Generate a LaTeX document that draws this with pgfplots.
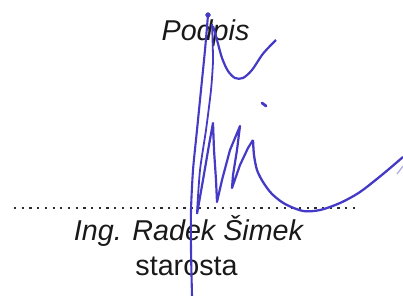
\documentclass[border=0pt]{standalone}
\usepackage{pgfplots}
\pgfplotsset{compat=1.18}
\usepackage{fontspec}
\setmainfont{Liberation Sans}
\definecolor{ink}{RGB}{68,58,198}
\definecolor{txt}{RGB}{25,25,25}
\definecolor{dotc}{RGB}{45,45,45}
\begin{document}
\begin{tikzpicture}
\begin{axis}[
  width=403bp, height=296bp, scale only axis,
  xmin=0, xmax=403, ymin=0, ymax=296, y dir=reverse,
  hide axis, clip=true,
]
% dotted signature line
\addplot[dotc, line width=2.2bp, dash pattern=on 2.2bp off 5.5bp, line cap=butt] coordinates {(14,208) (357,208)};
% texts
\node[txt, anchor=base, inner sep=0pt, font=\fontsize{28.8}{34}\selectfont\itshape] at (axis cs:205.5,40) {Podpis};
\node[txt, anchor=base, inner sep=0pt, font=\fontsize{28.8}{34}\selectfont\itshape] at (axis cs:188.5,240) {Ing. Radek Šimek};
\node[txt, anchor=base, inner sep=0pt, font=\fontsize{28.8}{34}\selectfont] at (axis cs:186.5,275) {starosta};
% signature strokes
\addplot[ink, line width=2.1bp, smooth, tension=0.4] coordinates {
(208,15) (205,50) (201,90) (197,130) (193,170) (191,210) (191,250) (192,296)};
\addplot[ink, line width=1.8bp, smooth, tension=0.4] coordinates {
(212,24) (213,60) (211,90) (206,130) (200,170) (197,212)};
\addplot[ink, line width=2.2bp, smooth, tension=0.5] coordinates {
(213,26) (217,40) (222,58) (228,71) (235,78) (243,78) (252,70) (262,55) (270,46) (276,40)};
\addplot[ink, line width=2.2bp, sharp plot, line join=round] coordinates {
(197,214) (203,180) (209,145) (213,123) (214,150) (216,180) (217,202) (222,180) (230,150) (240,126) (237,150) (233,175) (232,188) (240,165) (248,148) (253,140)};
\addplot[ink, line width=2.3bp, smooth, tension=0.5] coordinates {
(253,140) (254,155) (257,170) (263,182) (272,194) (285,204) (303,211) (320,210) (340,203) (360,192) (383,174) (403,157)};
\addplot[ink!45, line width=1.2bp] coordinates {(397,174) (403,166)};
\addplot[ink, line width=2.8bp, line cap=round] coordinates {(262,103) (266,106)};
\addplot[ink, only marks, mark=*, mark size=2.4bp] coordinates {(208,15)};
\end{axis}
\pgfresetboundingbox
\useasboundingbox (current axis.south west) rectangle (current axis.north east);
\end{tikzpicture}
\end{document}
